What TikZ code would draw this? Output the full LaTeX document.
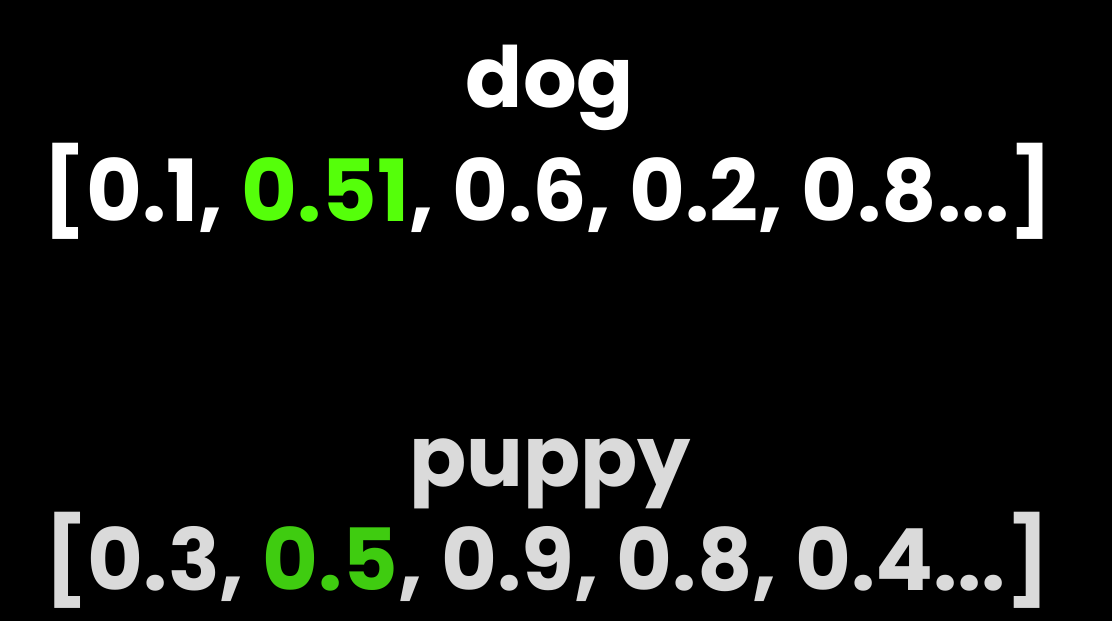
\documentclass[tikz,border=0pt]{standalone}
\usepackage{fontspec}
\setmainfont{Poppins}[BoldFont={* Bold}]
\definecolor{hlgreen}{HTML}{55FF0A}
\definecolor{hldark}{HTML}{3FCC10}
\definecolor{fadegray}{HTML}{DADADA}
\usetikzlibrary{positioning}

\begin{document}
\begin{tikzpicture}[
    x=1cm, y=1cm,
    word/.style={inner sep=0pt, anchor=base, font=\bfseries\fontsize{24}{28}\selectfont},
    vec/.style={inner sep=0pt, anchor=base, font=\bfseries\fontsize{24.4}{29}\selectfont}
]

\fill[black] (0,0) rectangle (11.12,6.21);

\node[word, text=white] (dog) at (5.5,5.13) {dog};
\node[vec, text=white] (dogvec) at (5.48,3.99) {[0.1, {\color{hlgreen}0.51}, 0.6, 0.2, 0.8...]};

\node[word, text=fadegray] (puppy) at (5.5,1.34) {puppy};
\node[vec, text=fadegray] (puppyvec) at (5.47,0.31) {[0.3, {\color{hldark}0.5}, 0.9, 0.8, 0.4...]};

\end{tikzpicture}
\end{document}
